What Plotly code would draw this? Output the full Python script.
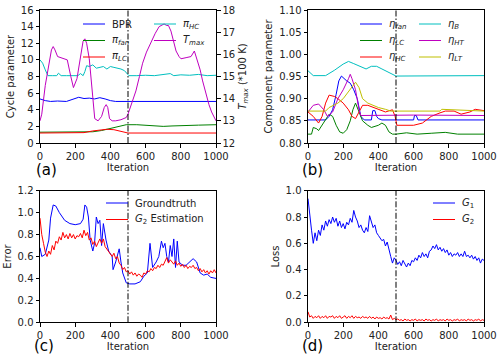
import plotly.graph_objects as go

W, H = 498, 358

# ---------------- panel (a): cycle parameters ----------------
it_bpr = [0, 30, 60, 100, 150, 180, 220, 250, 280, 310, 340, 370, 400, 430, 500, 1000]
bpr = [5.3, 5.1, 5.0, 5.05, 5.0, 5.2, 5.5, 5.35, 5.4, 5.3, 5.45, 5.3, 5.1, 5.0, 5.0, 5.0]

it_fan = [0, 250, 300, 350, 400, 450, 490, 550, 600, 650, 700, 750, 800, 850, 900, 1000]
pi_fan = [1.3, 1.3, 1.35, 1.5, 1.75, 2.0, 2.2, 2.2, 2.15, 2.1, 2.0, 2.05, 2.1, 2.1, 2.15, 2.2]

it_lc = [0, 200, 250, 300, 350, 380, 420, 450, 480, 500, 1000]
pi_lc = [1.2, 1.2, 1.25, 1.45, 1.6, 1.65, 1.6, 1.45, 1.3, 1.2, 1.2]

it_hc = [0, 15, 30, 45, 70, 95, 105, 120, 150, 180, 200, 215, 230, 245, 255, 265, 280, 300,
         320, 340, 360, 380, 400, 420, 440, 460, 480, 495, 505, 550, 600, 650, 700, 740,
         760, 800, 850, 900, 950, 1000]
pi_hc = [10.0, 9.6, 8.8, 8.1, 8.1, 8.1, 8.4, 8.1, 8.1, 8.1, 8.1, 8.1, 8.35, 8.1, 8.6, 9.3,
         9.2, 9.4, 9.0, 9.1, 9.2, 8.9, 9.2, 9.1, 9.0, 8.9, 8.7, 8.3, 8.1, 8.1, 8.15, 8.1,
         8.2, 8.35, 8.1, 8.2, 8.15, 8.25, 8.1, 8.15]

it_tmax = [0, 10, 30, 50, 65, 75, 85, 100, 130, 155, 175, 190, 210, 230, 245, 255, 265, 280,
           295, 311, 330, 350, 365, 376, 385, 395, 410, 430, 460, 490, 500, 520, 545, 565,
           583, 605, 630, 655, 677, 690, 705, 720, 730, 744, 760, 773, 790, 801, 830, 858,
           877, 896, 910, 924, 940, 960, 975, 989, 1000]
t_max = [13.0, 13.3, 14.6, 15.6, 16.2, 16.35, 16.2, 15.9, 15.8, 15.75, 15.0, 14.5, 14.9, 15.8,
         16.6, 16.7, 16.5, 15.8, 14.5, 13.1, 13.0, 13.2, 13.6, 13.73, 13.6, 13.1, 13.0, 13.0,
         13.05, 13.15, 13.3, 13.8, 14.35, 15.0, 15.6, 16.1, 16.55, 16.95, 17.25, 17.3, 17.37,
         17.3, 17.3, 17.05, 16.6, 16.15, 15.9, 15.8, 15.85, 15.9, 16.15, 15.7, 15.3, 14.8,
         14.3, 13.73, 13.4, 13.13, 13.0]

# ---------------- panel (b): component parameters ----------------
it_efan = [0, 100, 120, 140, 160, 175, 190, 205, 220, 240, 260, 280, 300, 320, 360, 368, 380,
           390, 400, 420, 600, 605, 615, 625, 1000]
eta_fan = [0.852, 0.852, 0.86, 0.875, 0.91, 0.94, 0.951, 0.945, 0.94, 0.935, 0.92, 0.9, 0.86,
           0.852, 0.852, 0.873, 0.873, 0.86, 0.855, 0.852, 0.852, 0.862, 0.862, 0.852, 0.852]

it_elc = [0, 20, 30, 50, 60, 80, 100, 120, 140, 160, 180, 200, 220, 240, 255, 270, 290, 310,
          340, 360, 400, 420, 440, 460, 480, 500, 560, 620, 700, 780, 850, 1000]
eta_lc = [0.82, 0.82, 0.835, 0.832, 0.828, 0.84, 0.855, 0.865, 0.86, 0.84, 0.825, 0.822, 0.83,
          0.85, 0.875, 0.89, 0.87, 0.85, 0.84, 0.835, 0.84, 0.845, 0.84, 0.825, 0.82, 0.82,
          0.823, 0.82, 0.822, 0.824, 0.82, 0.82]

it_ehc = [0, 30, 60, 80, 100, 120, 150, 170, 200, 230, 250, 270, 290, 310, 340, 370, 400, 440,
          480, 495, 505, 600, 650, 700, 750, 780, 830, 870, 920, 950, 1000]
eta_hc = [0.87, 0.86, 0.845, 0.86, 0.89, 0.908, 0.905, 0.9, 0.89, 0.875, 0.86, 0.855, 0.87,
          0.885, 0.885, 0.88, 0.875, 0.87, 0.875, 0.86, 0.84, 0.84, 0.845, 0.86, 0.868, 0.872,
          0.872, 0.865, 0.87, 0.876, 0.873]

it_eb = [0, 30, 100, 150, 200, 230, 260, 300, 330, 360, 390, 420, 450, 480, 500, 1000]
eta_b = [0.963, 0.952, 0.952, 0.964, 0.978, 0.984, 0.979, 0.972, 0.967, 0.973, 0.973, 0.967,
         0.961, 0.954, 0.951, 0.952]

it_eht = [0, 30, 60, 90, 110, 140, 170, 200, 230, 240, 250, 270, 290, 300, 600, 1000]
eta_ht = [0.87, 0.885, 0.888, 0.875, 0.86, 0.87, 0.9, 0.92, 0.945, 0.955, 0.945, 0.92, 0.875,
          0.862, 0.863, 0.862]

it_elt = [0, 100, 120, 170, 200, 240, 270, 290, 310, 340, 370, 400, 440, 470, 500, 750, 760, 1000]
eta_lt = [0.872, 0.872, 0.88, 0.89, 0.9, 0.92, 0.937, 0.925, 0.9, 0.89, 0.885, 0.88, 0.876,
          0.872, 0.872, 0.872, 0.876, 0.872]

# ---------------- panel (c): error ----------------
it_gt = [0, 10, 30, 50, 60, 75, 90, 110, 140, 170, 200, 230, 245, 255, 265, 275, 285, 300, 310,
         320, 330, 340, 350, 360, 375, 390, 410, 415, 430, 440, 450, 460, 470, 490, 510, 540,
         570, 590, 610, 625, 640, 660, 675, 690, 700, 710, 720, 730, 740, 750, 760, 770, 780,
         790, 810, 830, 850, 870, 890, 900, 910, 930, 950, 970, 990, 1000]
groundtruth = [0.68, 0.6, 0.62, 0.75, 0.95, 1.07, 1.06, 1.0, 0.93, 0.9, 0.89, 0.9, 0.94, 1.07,
               1.05, 0.96, 0.75, 0.65, 0.72, 0.96, 0.9, 0.93, 0.7, 0.9, 0.75, 0.65, 0.6, 0.48,
               0.55, 0.62, 0.67, 0.55, 0.45, 0.36, 0.35, 0.35, 0.37, 0.42, 0.45, 0.72, 0.5,
               0.55, 0.6, 0.74, 0.68, 0.72, 0.6, 0.55, 0.7, 0.6, 0.76, 0.5, 0.74, 0.55, 0.52,
               0.52, 0.55, 0.58, 0.55, 0.5, 0.45, 0.43, 0.44, 0.41, 0.40, 0.40]

it_10 = list(range(0, 1001, 10))
g2_est = [0.95, 0.80, 0.72, 0.64, 0.60, 0.65, 0.62, 0.70, 0.66, 0.74,
          0.72, 0.78, 0.75, 0.82, 0.77, 0.80, 0.76, 0.81, 0.77, 0.80,
          0.76, 0.79, 0.78, 0.81, 0.77, 0.84, 0.79, 0.82, 0.75, 0.77,
          0.71, 0.74, 0.69, 0.73, 0.76, 0.72, 0.76, 0.69, 0.67, 0.64,
          0.62, 0.60, 0.63, 0.58, 0.60, 0.54, 0.52, 0.48, 0.50, 0.46,
          0.47, 0.44, 0.46, 0.43, 0.45, 0.42, 0.44, 0.43, 0.41, 0.45,
          0.44, 0.47, 0.46, 0.49, 0.47, 0.50, 0.49, 0.52, 0.50, 0.53,
          0.52, 0.55, 0.59, 0.54, 0.57, 0.55, 0.53, 0.56, 0.52, 0.54,
          0.51, 0.53, 0.50, 0.52, 0.49, 0.51, 0.50, 0.52, 0.49, 0.50,
          0.47, 0.49, 0.46, 0.48, 0.45, 0.47, 0.44, 0.47, 0.45, 0.48, 0.45]

# ---------------- panel (d): loss ----------------
g1_loss = [0.94, 0.80, 0.70, 0.60, 0.68, 0.62, 0.70, 0.66, 0.74, 0.70,
           0.77, 0.73, 0.78, 0.75, 0.80, 0.76, 0.79, 0.73, 0.77, 0.72,
           0.75, 0.71, 0.76, 0.74, 0.79, 0.76, 0.85, 0.80, 0.77, 0.72,
           0.74, 0.70, 0.68, 0.72, 0.69, 0.81, 0.76, 0.72, 0.74, 0.68,
           0.66, 0.64, 0.62, 0.63, 0.58, 0.61, 0.54, 0.50, 0.45, 0.49,
           0.47, 0.44, 0.46, 0.43, 0.47, 0.44, 0.42, 0.45, 0.43, 0.47,
           0.46, 0.49, 0.47, 0.51, 0.49, 0.53, 0.50, 0.52, 0.49, 0.54,
           0.55, 0.58, 0.56, 0.59, 0.55, 0.57, 0.54, 0.56, 0.53, 0.55,
           0.51, 0.53, 0.50, 0.52, 0.51, 0.53, 0.50, 0.52, 0.50, 0.54,
           0.50, 0.51, 0.49, 0.51, 0.48, 0.50, 0.47, 0.49, 0.45, 0.48, 0.47]
g2_loss = [0.08, 0.04, 0.05, 0.03, 0.045, 0.035, 0.05, 0.03, 0.045, 0.035,
           0.05, 0.03, 0.045, 0.04, 0.05, 0.03, 0.045, 0.035, 0.05, 0.03,
           0.04, 0.05, 0.03, 0.045, 0.035, 0.05, 0.03, 0.045, 0.035, 0.04,
           0.03, 0.045, 0.035, 0.04, 0.03, 0.045, 0.03, 0.04, 0.025, 0.04,
           0.03, 0.035, 0.025, 0.04, 0.03, 0.035, 0.025, 0.055, 0.02, 0.03,
           0.02, 0.025, 0.015, 0.02, 0.01, 0.025, 0.015, 0.02, 0.01, 0.02,
           0.015, 0.025, 0.01, 0.02, 0.015, 0.02, 0.01, 0.025, 0.015, 0.02,
           0.01, 0.02, 0.015, 0.025, 0.01, 0.02, 0.015, 0.02, 0.01, 0.025,
           0.015, 0.02, 0.01, 0.02, 0.015, 0.025, 0.01, 0.02, 0.015, 0.02,
           0.01, 0.025, 0.015, 0.02, 0.01, 0.02, 0.015, 0.025, 0.01, 0.02, 0.015]

C_B, C_G, C_R = "#0000ff", "#008000", "#ff0000"
C_C, C_M, C_Y = "#00bfbf", "#bf00bf", "#bfbf00"


def px_x(p):
    return p / W


def px_y(p):
    return 1 - p / H


fig = go.Figure()


def add_line(x, y, color, xa, ya):
    fig.add_trace(go.Scatter(x=x, y=y, mode="lines", line=dict(color=color, width=1),
                             xaxis=xa, yaxis=ya, showlegend=False, hoverinfo="skip"))


add_line(it_bpr, bpr, C_B, "x", "y")
add_line(it_fan, pi_fan, C_G, "x", "y")
add_line(it_lc, pi_lc, C_R, "x", "y")
add_line(it_hc, pi_hc, C_C, "x", "y")
add_line(it_tmax, t_max, C_M, "x", "y5")

add_line(it_efan, eta_fan, C_B, "x2", "y2")
add_line(it_elc, eta_lc, C_G, "x2", "y2")
add_line(it_ehc, eta_hc, C_R, "x2", "y2")
add_line(it_eb, eta_b, C_C, "x2", "y2")
add_line(it_eht, eta_ht, C_M, "x2", "y2")
add_line(it_elt, eta_lt, C_Y, "x2", "y2")

add_line(it_gt, groundtruth, C_B, "x3", "y3")
add_line(it_10, g2_est, C_R, "x3", "y3")

add_line(it_10, g1_loss, C_B, "x4", "y4")
add_line(it_10, g2_loss, C_R, "x4", "y4")

font = dict(family="DejaVu Sans", size=10, color="#222222")
axis_style = dict(showline=True, mirror=True, linecolor="black", linewidth=1,
                  ticks="outside", ticklen=3.5, tickwidth=0.8, tickcolor="black",
                  showgrid=False, zeroline=False, tickfont=font, automargin=False)

xl = [40, 308]
xr = [216, 484]
yt = [10, 190.7]
yb = [143, 322.3]

xdom = [[px_x(xl[0]), px_x(xr[0])], [px_x(xl[1]), px_x(xr[1])]]
ydom = [[px_y(yb[0]), px_y(yt[0])], [px_y(yb[1]), px_y(yt[1])]]

xtitle = dict(text="Iteration", font=font, standoff=3)
xcommon = dict(range=[0, 1000], tickvals=[0, 200, 400, 600, 800, 1000], title=xtitle, **axis_style)

fig.update_layout(
    width=W, height=H, margin=dict(l=0, r=0, t=0, b=0),
    paper_bgcolor="white", plot_bgcolor="white", font=font, showlegend=False,
    xaxis=dict(domain=xdom[0], anchor="y", **xcommon),
    xaxis2=dict(domain=xdom[1], anchor="y2", **xcommon),
    xaxis3=dict(domain=xdom[0], anchor="y3", **xcommon),
    xaxis4=dict(domain=xdom[1], anchor="y4", **xcommon),
    yaxis=dict(domain=ydom[0], anchor="x", range=[0, 16], tickvals=list(range(0, 17, 2)),
               title=dict(text="Cycle parameter", font=font, standoff=4), **axis_style),
    yaxis5=dict(overlaying="y", anchor="x", side="right", range=[12, 18],
                tickvals=list(range(12, 19)),
                title=dict(text="<i>T</i><sub><i>max</i></sub> (*100 K)", font=font, standoff=4),
                **axis_style),
    yaxis2=dict(domain=ydom[0], anchor="x2", range=[0.8, 1.1],
                tickvals=[0.80, 0.85, 0.90, 0.95, 1.00, 1.05, 1.10], tickformat=".2f",
                title=dict(text="Component parameter", font=font, standoff=4), **axis_style),
    yaxis3=dict(domain=ydom[1], anchor="x3", range=[0, 1.2],
                tickvals=[0, 0.2, 0.4, 0.6, 0.8, 1.0, 1.2], tickformat=".1f",
                title=dict(text="Error", font=font, standoff=4), **axis_style),
    yaxis4=dict(domain=ydom[1], anchor="x4", range=[0, 1.0],
                tickvals=[0, 0.2, 0.4, 0.6, 0.8, 1.0], tickformat=".1f",
                title=dict(text="Loss", font=font, standoff=4), **axis_style),
)

# vertical dash-dot marker at iteration 500
for xa, ya in [("x", "y"), ("x2", "y2"), ("x3", "y3"), ("x4", "y4")]:
    fig.add_shape(type="line", xref=xa, yref=ya + " domain", x0=500, x1=500, y0=0, y1=1,
                  line=dict(color="black", width=1, dash="6px,2px,1.5px,2px"))

# legends (matplotlib-style, frameless)
leg_names_a1 = ["BPR", "<i>π</i><sub><i>fan</i></sub>", "<i>π</i><sub><i>LC</i></sub>"]
leg_names_a2 = ["<i>π</i><sub><i>HC</i></sub>", "<i>T</i><sub><i>max</i></sub>"]
leg_names_b1 = ["<i>η</i><sub><i>fan</i></sub>", "<i>η</i><sub><i>LC</i></sub>",
                "<i>η</i><sub><i>HC</i></sub>"]
leg_names_b2 = ["<i>η</i><sub><i>B</i></sub>", "<i>η</i><sub><i>HT</i></sub>",
                "<i>η</i><sub><i>LT</i></sub>"]
leg_names_c = ["Groundtruth", "<i>G</i><sub>2</sub> Estimation"]
leg_names_d = ["<i>G</i><sub>1</sub>", "<i>G</i><sub>2</sub>"]

legends = [
    (leg_names_a1, [C_B, C_G, C_R], 83, 24),
    (leg_names_a2, [C_C, C_M], 154, 24),
    (leg_names_b1, [C_B, C_G, C_R], 360, 24),
    (leg_names_b2, [C_C, C_M, C_Y], 419, 24),
    (leg_names_c, [C_B, C_R], 106, 203),
    (leg_names_d, [C_B, C_R], 433, 203),
]
for names, colors, x0, y0 in legends:
    for k, (name, col) in enumerate(zip(names, colors)):
        yy = y0 + k * 16.5
        fig.add_shape(type="line", xref="paper", yref="paper",
                      x0=px_x(x0), x1=px_x(x0 + 22), y0=px_y(yy), y1=px_y(yy),
                      line=dict(color=col, width=1))
        fig.add_annotation(text=name, xref="paper", yref="paper", x=px_x(x0 + 27), y=px_y(yy),
                           xanchor="left", yanchor="middle", showarrow=False,
                           font=dict(family="DejaVu Sans", size=10, color="#222222"))

for lab, cx, cy in [("(a)", 46, 170), ("(b)", 312, 170), ("(c)", 44, 346), ("(d)", 312, 346)]:
    fig.add_annotation(text=lab, xref="paper", yref="paper", x=px_x(cx), y=px_y(cy),
                       xanchor="center", yanchor="middle", showarrow=False,
                       font=dict(family="DejaVu Sans", size=15, color="black"))

# the page's default body margin would push the fixed-size figure off the window
fig.write_html("out.html", config={"displayModeBar": False},
               post_script="document.body.style.margin='0px';")
